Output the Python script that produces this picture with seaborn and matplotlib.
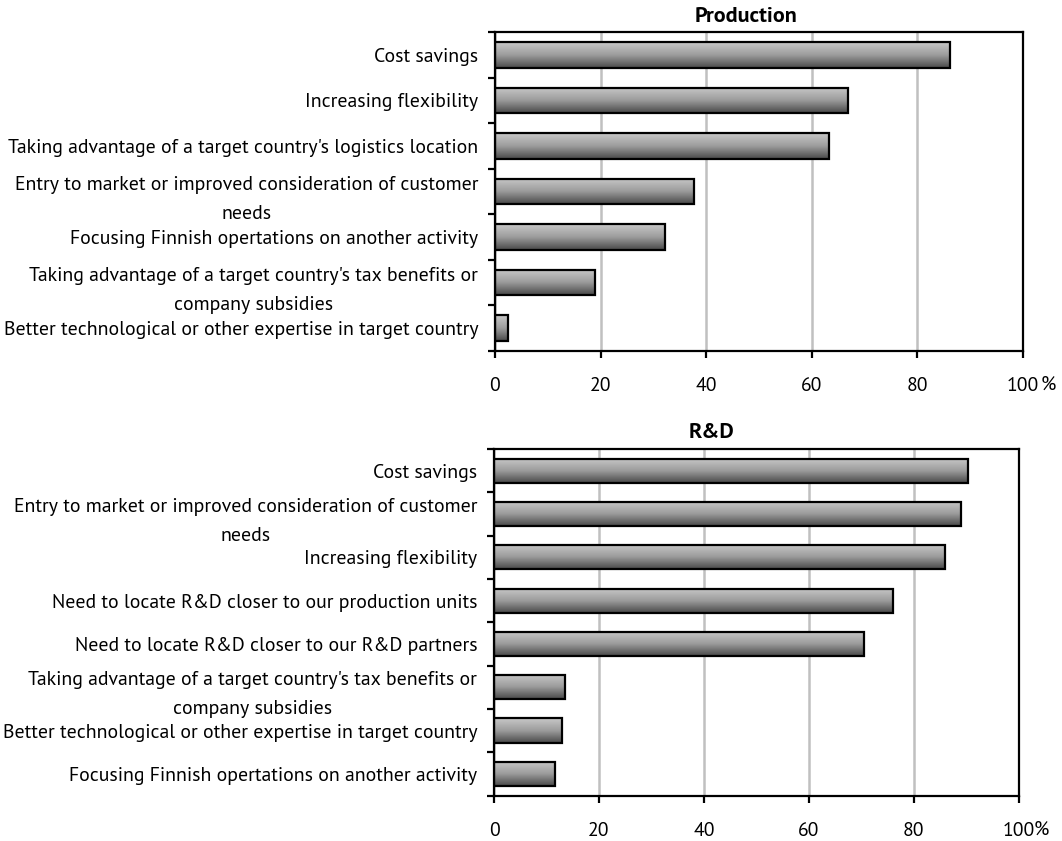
import numpy as np
import pandas as pd
import matplotlib
matplotlib.use("Agg")
import matplotlib.pyplot as plt
from matplotlib.colors import LinearSegmentedColormap
from matplotlib import font_manager as fm
from matplotlib.textpath import TextPath
from matplotlib.font_manager import FontProperties
import seaborn as sns

# ---------------- data ----------------
prod_categories = [
    "Cost savings",
    "Increasing flexibility",
    "Taking advantage of a target country's logistics location",
    "Entry to market or improved consideration of customer\nneeds",
    "Focusing Finnish opertations on another activity",
    "Taking advantage of a target country's tax benefits or\ncompany subsidies",
    "Better technological or other expertise in target country",
]
prod_values = [86.2, 66.8, 63.2, 37.7, 32.2, 19.0, 2.5]

rd_categories = [
    "Cost savings",
    "Entry to market or improved consideration of customer\nneeds",
    "Increasing flexibility",
    "Need to locate R&D closer to our production units",
    "Need to locate R&D closer to our R&D partners",
    "Taking advantage of a target country's tax benefits or\ncompany subsidies",
    "Better technological or other expertise in target country",
    "Focusing Finnish opertations on another activity",
]
rd_values = [90.3, 89.0, 86.0, 76.0, 70.5, 13.5, 12.9, 11.6]

x_ticks = [0, 20, 40, 60, 80, 100]
x_ticklabels = ["0", "20", "40", "60", "80", "100"]

# ---------------- style ----------------
sns.set_theme(style="white")
names = {f.name for f in fm.fontManager.ttflist}
prefs = ["PT Sans", "Fira Sans Condensed"]
avail = [p for p in prefs if p in names]
family = avail[:1] + ["DejaVu Sans"]
plt.rcParams["font.family"] = family
for k in ["text.color", "axes.labelcolor", "xtick.color", "ytick.color"]:
    plt.rcParams[k] = "black"

# size text so that the longest label spans like the reference (~468 px)
probe = TextPath((0, 0), "Taking advantage of a target country's logistics location",
                 size=100, prop=FontProperties(family=family))
wpx = probe.get_extents().width
FS = 100 * 468 / wpx * 72 / 100
TFS = FS * 1.12

W, H = 1062, 841
fig = plt.figure(figsize=(W / 100, H / 100), dpi=100)

def px_axes(l, t, r, b):
    return fig.add_axes([l / W, 1 - b / H, (r - l) / W, (b - t) / H])

ax1 = px_axes(495, 32, 1022.7, 351)
ax2 = px_axes(494, 449, 1018.7, 795.6)

grad_cmap = LinearSegmentedColormap.from_list("g", ["#c8c8c8", "#9c9c9c", "#4a4a4a"])
grad = np.linspace(0, 1, 64).reshape(-1, 1)

def draw_panel(ax, cats, vals, title, title_x, title_y, pct_dx, pct_text):
    df = pd.DataFrame({"cat": cats, "val": vals})
    sns.barplot(data=df, x="val", y="cat", ax=ax, orient="h", width=0.56,
                color="#999999", edgecolor="black", linewidth=1.6, zorder=3)
    n = len(cats)
    for p in list(ax.patches):
        x0, y0 = p.get_x(), p.get_y()
        w, h = p.get_width(), p.get_height()
        im = ax.imshow(grad, cmap=grad_cmap, aspect="auto", origin="upper",
                       extent=[x0, x0 + w, y0 + h, y0], zorder=2.5,
                       interpolation="bilinear")
        im.set_clip_path(p)
        p.set_facecolor("none")
    ax.set_xlim(0, 100)
    ax.set_ylim(n - 0.5, -0.5)
    ax.set_xlabel("")
    ax.set_ylabel("")
    ax.xaxis.grid(True, color="#c0c0c0", linewidth=1.8)
    ax.yaxis.grid(False)
    ax.set_axisbelow(True)
    for s in ax.spines.values():
        s.set_visible(True)
        s.set_color("black")
        s.set_linewidth(1.6)
    ax.set_xticks(x_ticks)
    ax.set_xticklabels(x_ticklabels, fontsize=FS)
    ax.tick_params(axis="x", which="major", direction="out", length=5, width=1.6,
                   color="black", pad=14, bottom=True)
    ax.set_yticks(range(n))
    ax.set_yticklabels(cats, fontsize=FS)
    ax.set_yticks(np.arange(-0.5, n, 1.0), minor=True)
    ax.tick_params(axis="y", which="major", length=0, pad=12, left=True)
    ax.tick_params(axis="y", which="minor", direction="out", length=5, width=1.6,
                   color="black", left=True)
    for lab in ax.get_yticklabels():
        lab.set_multialignment("center")
        lab.set_linespacing(1.8)
    ax.annotate(pct_text, xy=(100, 0), xycoords=("data", "axes fraction"),
                xytext=(pct_dx, -34), textcoords="offset pixels",
                ha="left", va="center", fontsize=FS)
    fig.text(title_x / W, 1 - title_y / H, title, ha="center", va="center",
             fontsize=TFS, fontweight="bold")

draw_panel(ax1, prod_categories, prod_values, "Production", 746, 17, 18, "%")
draw_panel(ax2, rd_categories, rd_values, "R&D", 712, 433, 15, "%")

fig.savefig("out.png", dpi=100)
